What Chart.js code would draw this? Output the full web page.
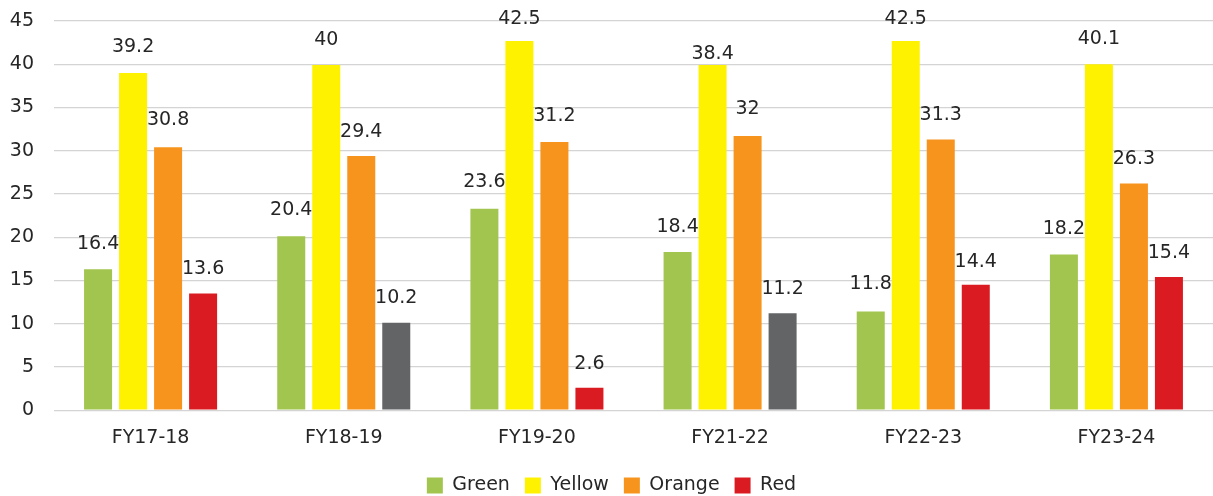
<!DOCTYPE html>
<html lang="en">
<head>
    <meta charset="UTF-8">
    <title>FY Ratings</title>
    <script src="https://cdn.jsdelivr.net/npm/chart.js"></script>
    <style>
        html, body {
            margin: 0;
            padding: 0;
            background: #fff;
        }
        .wrap {
            width: 1213px;
            height: 496px;
        }
    </style>
</head>
<body>
    <div class="wrap">
        <canvas id="barChart"></canvas>
    </div>

    <script>
        const categories = ['FY17-18', 'FY18-19', 'FY19-20', 'FY21-22', 'FY22-23', 'FY23-24'];

        // bar heights as drawn
        const green = [16.3, 20.1, 23.3, 18.3, 11.4, 18.0];
        const yellow = [39.0, 39.9, 42.7, 39.9, 42.7, 40.0];
        const orange = [30.4, 29.4, 31.0, 31.7, 31.3, 26.2];
        const red = [13.5, 10.1, 2.6, 11.2, 14.5, 15.4];

        // printed value labels
        const greenLabels = [16.4, 20.4, 23.6, 18.4, 11.8, 18.2];
        const yellowLabels = [39.2, 40, 42.5, 38.4, 42.5, 40.1];
        const orangeLabels = [30.8, 29.4, 31.2, 32, 31.3, 26.3];
        const redLabels = [13.6, 10.2, 2.6, 11.2, 14.4, 15.4];

        const yTicks = [0, 5, 10, 15, 20, 25, 30, 35, 40, 45];

        const FONT = "'DejaVu Sans', sans-serif";
        const TEXT = '#262626';

        // red bars that are shown grey in FY18-19 and FY21-22
        const redColors = ['#da1c22', '#636466', '#da1c22', '#636466', '#da1c22', '#da1c22'];

        const valueLabels = {
            id: 'valueLabels',
            afterDatasetsDraw(chart) {
                const ctx = chart.ctx;
                const y = chart.scales.y;
                ctx.save();
                ctx.font = '19px ' + FONT;
                ctx.fillStyle = TEXT;
                ctx.textAlign = 'center';
                ctx.textBaseline = 'middle';
                chart.data.datasets.forEach((ds, i) => {
                    const meta = chart.getDatasetMeta(i);
                    meta.data.forEach((bar, j) => {
                        const v = ds.printed[j];
                        ctx.fillText(String(v), bar.x, y.getPixelForValue(v) - 24);
                    });
                });
                ctx.restore();
            }
        };

        new Chart(document.getElementById('barChart'), {
            type: 'bar',
            data: {
                labels: categories,
                datasets: [
                    { label: 'Green', data: green, printed: greenLabels, backgroundColor: '#a2c54f' },
                    { label: 'Yellow', data: yellow, printed: yellowLabels, backgroundColor: '#fff200' },
                    { label: 'Orange', data: orange, printed: orangeLabels, backgroundColor: '#f7941d' },
                    { label: 'Red', data: red, printed: redLabels, backgroundColor: redColors }
                ]
            },
            options: {
                responsive: true,
                maintainAspectRatio: false,
                animation: false,
                categoryPercentage: 0.725,
                barPercentage: 0.8,
                layout: { padding: { left: 10, right: 0, top: 0, bottom: -9 } },
                plugins: {
                    legend: {
                        position: 'bottom',
                        labels: {
                            boxWidth: 16,
                            boxHeight: 16,
                            padding: 15,
                            color: TEXT,
                            font: { family: FONT, size: 19 }
                        }
                    },
                    tooltip: { enabled: false }
                },
                scales: {
                    x: {
                        grid: { display: false, drawTicks: false },
                        border: { display: false },
                        afterFit(axis) {
                            axis.height -= 4;
                        },
                        ticks: {
                            color: TEXT,
                            padding: 16,
                            font: { family: FONT, size: 19 }
                        }
                    },
                    y: {
                        min: 0,
                        max: 45,
                        afterBuildTicks(axis) {
                            axis.ticks = yTicks.map(v => ({ value: v }));
                        },
                        afterFit(axis) {
                            axis.width = 44;
                            axis.paddingTop = 21;
                        },
                        grid: { color: '#d4d4d4', lineWidth: 1.3, drawTicks: false },
                        border: { display: false },
                        ticks: {
                            color: TEXT,
                            padding: 20,
                            font: { family: FONT, size: 19 }
                        }
                    }
                }
            },
            plugins: [valueLabels]
        });
    </script>
</body>
</html>
